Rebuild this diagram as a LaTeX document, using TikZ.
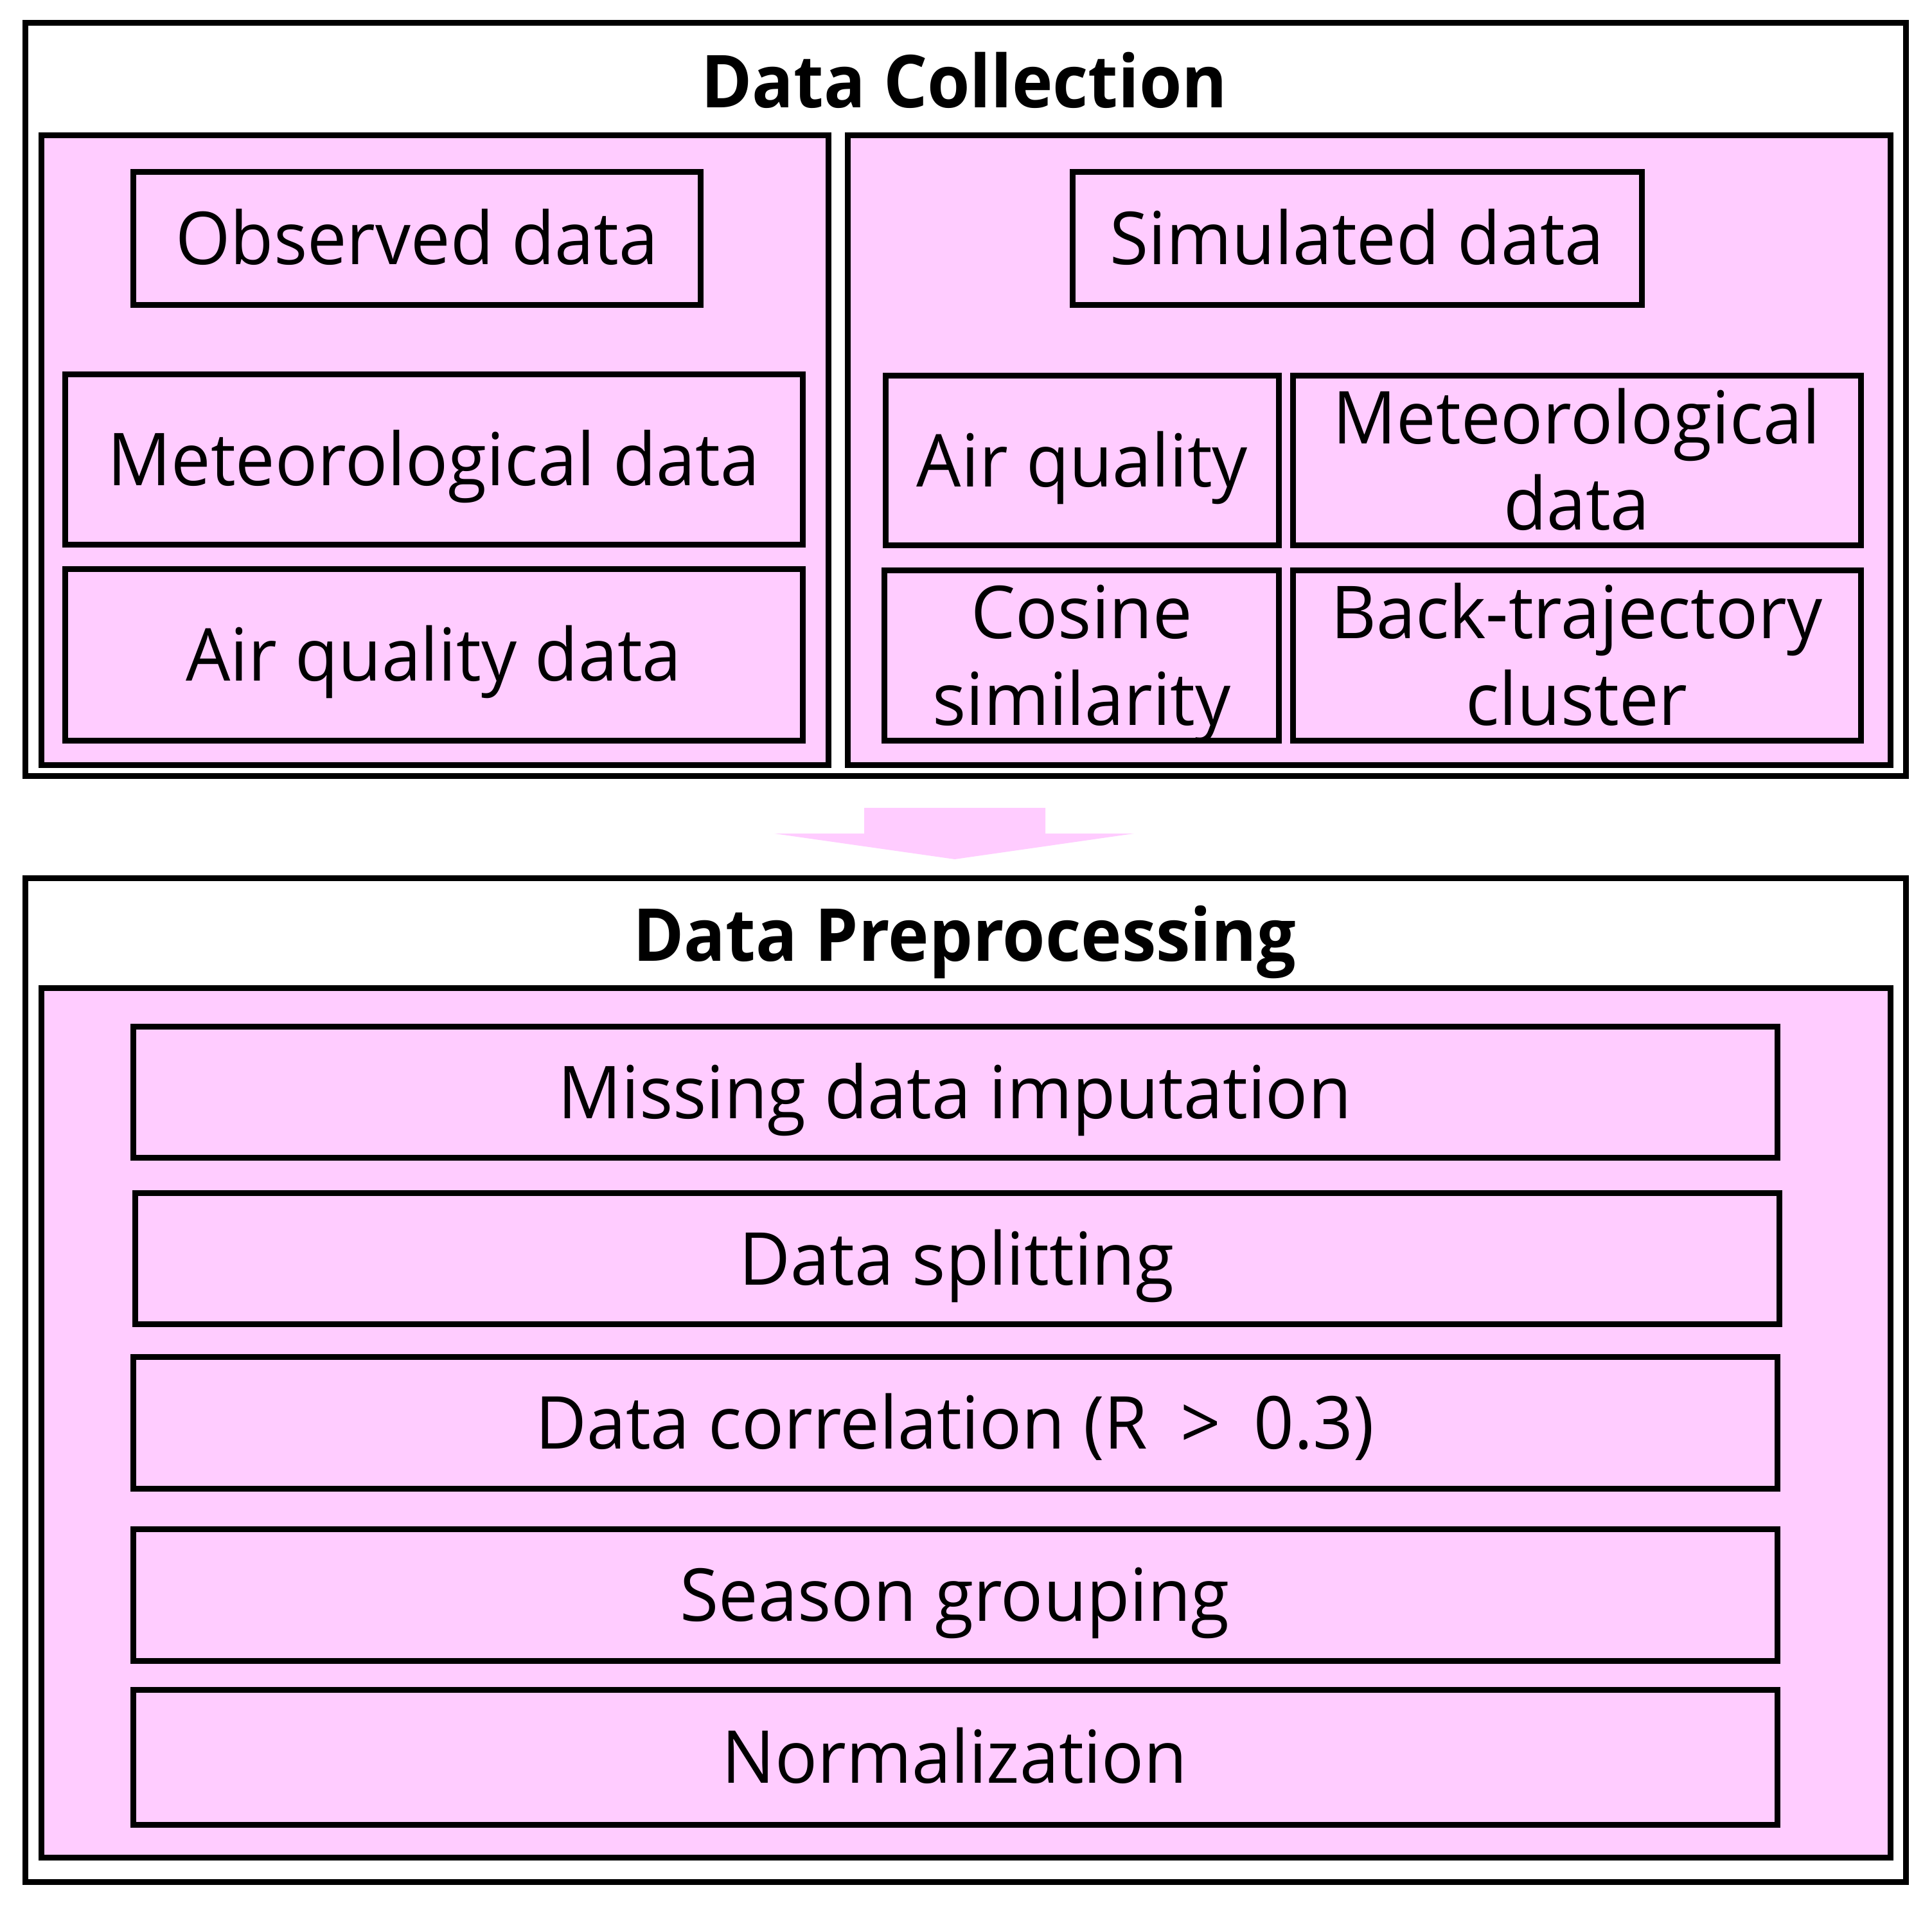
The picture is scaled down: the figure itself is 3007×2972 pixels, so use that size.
\documentclass[tikz,border=0pt]{standalone}
\usepackage{fontspec}
\setmainfont{Open Sans}[UprightFeatures={FakeStretch=0.965},BoldFeatures={FakeStretch=0.945}]
\definecolor{pinkfill}{HTML}{FFCCFF}
\begin{document}
\begin{tikzpicture}[x=0.25pt,y=-0.25pt,
  frame/.style={draw=black,line width=2.25pt,fill=white,inner sep=0pt},
  panel/.style={draw=black,line width=2.25pt,fill=pinkfill,inner sep=0pt},
  itembox/.style={draw=black,line width=2.25pt,fill=pinkfill,inner sep=0pt},
  lbl/.style={font=\fontsize{28.4pt}{33.5pt}\selectfont,inner sep=0pt,anchor=base,align=center},
  ttl/.style={font=\fontsize{28.4pt}{33.5pt}\selectfont\bfseries,inner sep=0pt,anchor=base}]
\useasboundingbox (0,0) rectangle (3007,2972);
% --- Data Collection ---
\path[frame] (39,35.5) rectangle (2966.5,1207.5);
\node[ttl] (t1) at (1501,168) {Data Collection};
\path[panel] (64.5,210.5) rectangle (1289.5,1190);
\path[panel] (1319.5,210.5) rectangle (2942,1190);
\path[itembox] (207.5,267.5) rectangle (1090.5,474.5);
\node[lbl] (obs) at (649,411.5) {Observed data};
\path[itembox] (1669,267.5) rectangle (2555.5,474.5);
\node[lbl] (sim) at (2112,411.5) {Simulated data};
\path[itembox] (101,583) rectangle (1249,848);
\node[lbl] (metL) at (675,756) {Meteorological data};
\path[itembox] (101,886) rectangle (1249,1152);
\node[lbl] (aqL) at (675,1059.5) {Air quality data};
\path[itembox] (1378.5,585) rectangle (1990.5,848.5);
\node[lbl] (aqR) at (1684.5,757.5) {Air quality};
\path[itembox] (2012,585) rectangle (2896,848.5);
\node[lbl] (metR) at (2454,825) {Meteorological\\data};
\path[itembox] (1376.5,887.5) rectangle (1990.5,1152);
\node[lbl] (cos) at (1683.5,1128) {Cosine\\similarity};
\path[itembox] (2012,887.5) rectangle (2896,1152);
\node[lbl] (back) at (2454,1128) {Back-trajectory\\cluster};
% --- arrow ---
\fill[pinkfill] (1345,1257) -- (1627,1257) -- (1627,1297) -- (1765,1297) -- (1486,1337) -- (1205,1297) -- (1345,1297) -- cycle;
% --- Data Preprocessing ---
\path[frame] (39,1366) rectangle (2966,2928.5);
\node[ttl] (t2) at (1501,1495) {Data Preprocessing};
\path[panel] (64.5,1537.5) rectangle (2942.5,2890);
\path[itembox] (207.5,1597.5) rectangle (2766.5,1801.5);
\node[lbl] (miss) at (1486,1740) {Missing data imputation};
\path[itembox] (210.5,1856.5) rectangle (2769.5,2060.5);
\node[lbl] (split) at (1489,1999) {Data splitting};
\path[itembox] (207.5,2111.5) rectangle (2766.5,2316.5);
\node[lbl] (corr) at (1486,2254.5) {Data correlation (R\hspace{0.45em}>\hspace{0.45em}0.3)};
\path[itembox] (207.5,2379.5) rectangle (2766.5,2584.5);
\node[lbl] (season) at (1486,2522.5) {Season grouping};
\path[itembox] (207.5,2629.5) rectangle (2766.5,2839);
\node[lbl] (norm) at (1486,2774.5) {Normalization};
\end{tikzpicture}
\end{document}
